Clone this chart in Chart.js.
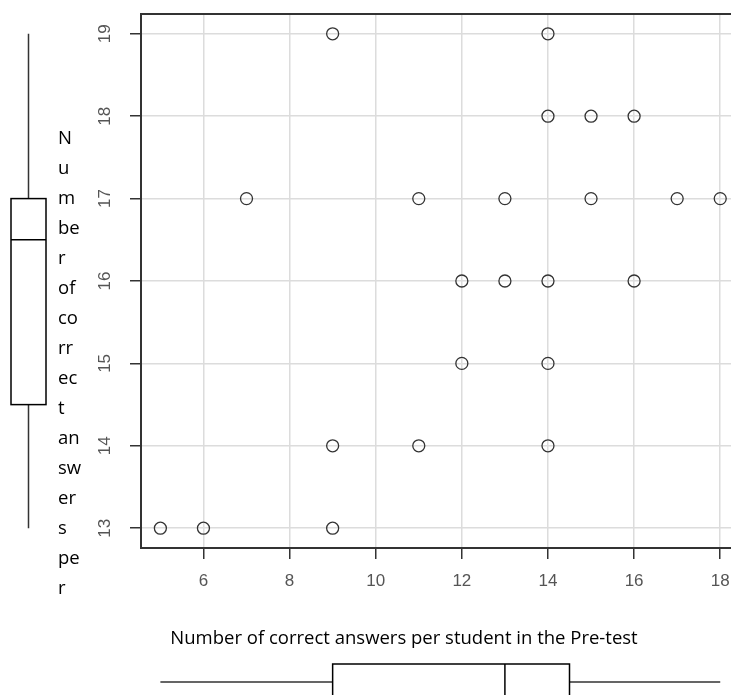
<!DOCTYPE html>
<html>
<head>
<meta charset="utf-8">
<script src="https://cdn.jsdelivr.net/npm/chart.js@4"></script>
<style>
  html, body { margin: 0; padding: 0; background: #fff; overflow: hidden; }
  #wrap { width: 731px; height: 695px; position: relative; }
</style>
</head>
<body>
<div id="wrap"><canvas id="my-chart" width="731" height="695"></canvas></div>
<script>
// pre-test (x) vs post-test (y) correct answers
const preTest = [9, 14, 14, 15, 16, 7, 11, 13, 15, 17, 18, 12, 13, 14, 16, 12, 14, 9, 11, 14, 5, 6, 9];
const postTest = [19, 19, 18, 18, 18, 17, 17, 17, 17, 17, 17, 16, 16, 16, 16, 15, 15, 14, 14, 14, 13, 13, 13];

const xTicks = [6, 8, 10, 12, 14, 16, 18];
const yTicks = [13, 14, 15, 16, 17, 18, 19];

// boxplot stats: min, q1, median, q3, max
const xBox = [5, 9, 13, 14.5, 18];
const yBox = [13, 14.5, 16.5, 17, 19];

const xTitle = 'Number of correct answers per student in the Pre-test';
const yTitleLines = ['N', 'u', 'm', 'be', 'r', 'of', 'co', 'rr', 'ec', 't', 'an', 'sw', 'er', 's', 'pe', 'r'];

const points = preTest.map((x, i) => ({ x, y: postTest[i] }));

const extras = {
  id: 'extras',
  afterDraw(chart) {
    const { ctx, chartArea, scales } = chart;
    const { x, y } = scales;
    ctx.save();

    // frame top
    ctx.strokeStyle = '#333';
    ctx.lineWidth = 2;
    ctx.beginPath();
    ctx.moveTo(chartArea.left, chartArea.top);
    ctx.lineTo(chartArea.right, chartArea.top);
    ctx.stroke();

    // rotated y tick labels
    ctx.fillStyle = '#555';
    ctx.font = '17px "Liberation Sans", Arial, sans-serif';
    ctx.textAlign = 'center';
    ctx.textBaseline = 'middle';
    yTicks.forEach((v) => {
      ctx.save();
      ctx.translate(105, y.getPixelForValue(v));
      ctx.rotate(-Math.PI / 2);
      ctx.fillText(String(v), 0, 0);
      ctx.restore();
    });

    // y title (wrapped)
    ctx.fillStyle = '#000';
    ctx.font = '18.5px "Open Sans", sans-serif';
    ctx.textAlign = 'left';
    ctx.textBaseline = 'middle';
    yTitleLines.forEach((t, i) => {
      ctx.fillText(t, 58, 139 + i * 30);
    });

    // x title
    ctx.textAlign = 'center';
    ctx.fillText(xTitle, 404, 639);

    // left boxplot (uses y scale)
    ctx.strokeStyle = '#333';
    ctx.lineWidth = 1.5;
    const bx0 = 11, bx1 = 46, bxm = 28.5;
    const [ymin, yq1, ymed, yq3, ymax] = yBox.map((v) => y.getPixelForValue(v));
    ctx.beginPath();
    ctx.moveTo(bxm, ymax); ctx.lineTo(bxm, yq3);
    ctx.moveTo(bxm, yq1); ctx.lineTo(bxm, ymin);
    ctx.stroke();
    ctx.strokeStyle = '#000';
    ctx.strokeRect(bx0, yq3, bx1 - bx0, yq1 - yq3);
    ctx.beginPath();
    ctx.moveTo(bx0, ymed); ctx.lineTo(bx1, ymed);
    ctx.stroke();

    // bottom boxplot (uses x scale)
    const by0 = 664, by1 = 700, bym = 682;
    const [xmin, xq1, xmed, xq3, xmax] = xBox.map((v) => x.getPixelForValue(v));
    ctx.strokeStyle = '#333';
    ctx.beginPath();
    ctx.moveTo(xmin, bym); ctx.lineTo(xq1, bym);
    ctx.moveTo(xq3, bym); ctx.lineTo(xmax, bym);
    ctx.stroke();
    ctx.strokeStyle = '#000';
    ctx.strokeRect(xq1, by0, xq3 - xq1, by1 - by0);
    ctx.beginPath();
    ctx.moveTo(xmed, by0); ctx.lineTo(xmed, by1);
    ctx.stroke();

    ctx.restore();
  },
};

const chart1 = document.getElementById('my-chart').getContext('2d');
const myChart = new Chart(chart1, {
  type: 'scatter',
  data: {
    datasets: [
      {
        data: points,
        pointRadius: 6,
        pointHoverRadius: 6,
        pointBorderWidth: 1.3,
        borderColor: '#333',
        backgroundColor: 'rgba(0,0,0,0)',
        clip: false,
      },
    ],
  },
  options: {
    responsive: false,
    animation: false,
    devicePixelRatio: 1,
    layout: { autoPadding: false, padding: { top: 14, left: 0, right: 0, bottom: 0 } },
    scales: {
      x: {
        type: 'linear',
        min: 4.55,
        max: 18.25,
        afterBuildTicks: (scale) => {
          scale.ticks = xTicks.map((value) => ({ value }));
        },
        afterFit: (scale) => {
          scale.height = 147;
          scale.paddingLeft = 0;
          scale.paddingRight = 0;
        },
        grid: {
          color: '#dcdcdc',
          lineWidth: 1.5,
          drawTicks: true,
          tickLength: 11,
          tickColor: '#333',
          tickWidth: 1.5,
        },
        border: { display: true, color: '#333', width: 2 },
        ticks: {
          color: '#555',
          padding: 12,
          maxRotation: 0,
          font: { family: '"Liberation Sans", Arial, sans-serif', size: 17 },
        },
      },
      y: {
        type: 'linear',
        min: 12.76,
        max: 19.24,
        afterBuildTicks: (scale) => {
          scale.ticks = yTicks.map((value) => ({ value }));
        },
        afterFit: (scale) => {
          scale.width = 141;
          scale.paddingTop = 0;
          scale.paddingBottom = 0;
        },
        grid: {
          color: '#dcdcdc',
          lineWidth: 1.5,
          drawTicks: true,
          tickLength: 11,
          tickColor: '#333',
          tickWidth: 1.5,
        },
        border: { display: true, color: '#333', width: 2 },
        ticks: { display: false },
      },
    },
    plugins: {
      legend: { display: false },
      tooltip: { enabled: false },
      title: { display: false },
    },
  },
  plugins: [extras],
});
</script>
</body>
</html>
